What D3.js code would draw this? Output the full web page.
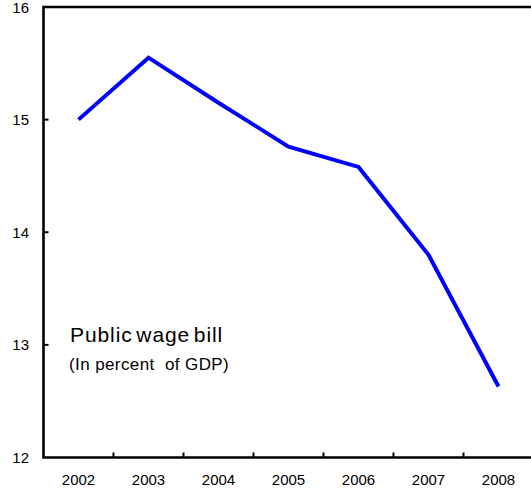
<!DOCTYPE html>
<html>
<head>
<meta charset="utf-8">
<script src="https://cdn.jsdelivr.net/npm/d3@7"></script>
<style>
  html, body { margin: 0; padding: 0; background: #fff; }
  svg { display: block; }
  text { font-family: "Liberation Sans", Arial, sans-serif; fill: #000; }
</style>
</head>
<body>
<script>
// Public wage bill, in percent of GDP
const years = ["2002", "2003", "2004", "2005", "2006", "2007", "2008"];
const wageBill = [15.0, 15.55, 15.15, 14.76, 14.58, 13.80, 12.63];
const yTicks = [12, 13, 14, 15, 16];
const titleText = "Public wage bill";
const subtitleText = "(In percent  of GDP)";

const width = 531, height = 489;
const plotLeft = 43.5, plotRight = 533.5, plotTop = 7, plotBottom = 457.5;

const svg = d3.select("body").append("svg")
  .attr("width", width)
  .attr("height", height);

const x = d3.scaleBand().domain(years).range([plotLeft, plotRight]).padding(0);
const y = d3.scaleLinear().domain([12, 16]).range([plotBottom, plotTop]);

// frame: left axis, top edge, bottom axis
svg.append("path")
  .attr("d", `M${plotRight},${plotTop}H${plotLeft}V${plotBottom}H${plotRight}`)
  .attr("fill", "none")
  .attr("stroke", "#000")
  .attr("stroke-width", 2.6);

// y ticks pointing inward
svg.selectAll(".ytick").data(yTicks.slice(1, -1)).join("line")
  .attr("x1", plotLeft).attr("x2", plotLeft + 5)
  .attr("y1", d => y(d)).attr("y2", d => y(d))
  .attr("stroke", "#000").attr("stroke-width", 2);

svg.selectAll(".ylab").data(yTicks).join("text")
  .attr("x", 29)
  .attr("y", d => y(d) + 5.5)
  .attr("text-anchor", "end")
  .attr("font-size", 15)
  .text(d => d);

// x ticks at category boundaries, pointing upward
svg.selectAll(".xtick").data(years.slice(1)).join("line")
  .attr("x1", d => x(d)).attr("x2", d => x(d))
  .attr("y1", plotBottom).attr("y2", plotBottom - 5)
  .attr("stroke", "#000").attr("stroke-width", 2);

svg.selectAll(".xlab").data(years).join("text")
  .attr("x", d => x(d) + x.bandwidth() / 2)
  .attr("y", 485)
  .attr("text-anchor", "middle")
  .attr("font-size", 15)
  .text(d => d);

// series line
const line = d3.line()
  .x((d, i) => x(years[i]) + x.bandwidth() / 2)
  .y(d => y(d));

svg.append("path")
  .datum(wageBill)
  .attr("d", line)
  .attr("fill", "none")
  .attr("stroke", "#0000ff")
  .attr("stroke-width", 4)
  .attr("stroke-linejoin", "miter");

// in-plot labels
svg.append("text")
  .attr("x", 70)
  .attr("y", 341.5)
  .attr("font-size", 21)
  .attr("letter-spacing", 0.9)
  .attr("word-spacing", -3)
  .text(titleText);

svg.append("text")
  .attr("x", 69)
  .attr("y", 370)
  .attr("font-size", 17)
  .attr("letter-spacing", 0.4)
  .style("white-space", "pre")
  .text(subtitleText);
</script>
</body>
</html>
